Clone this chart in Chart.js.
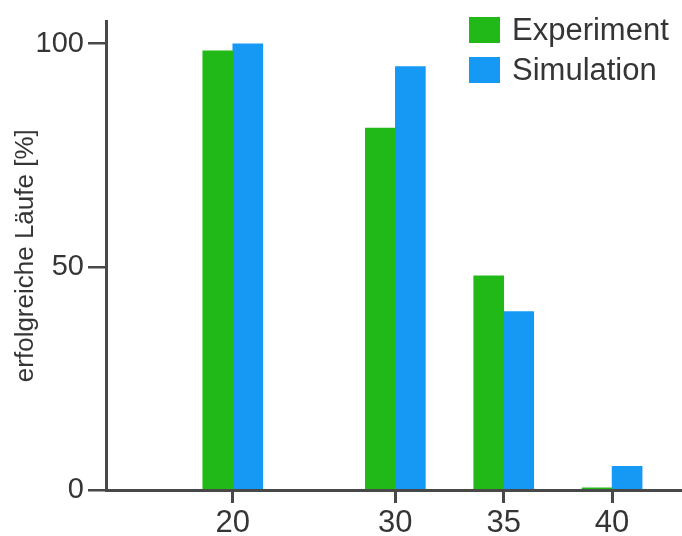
<!DOCTYPE html>
<html>
<head>
<meta charset="utf-8">
<script src="https://cdn.jsdelivr.net/npm/chart.js@4/dist/chart.umd.min.js"></script>
<style>
  html, body { margin: 0; padding: 0; background: #fff; }
  #wrap { position: relative; width: 682px; height: 536px; }
</style>
</head>
<body>
<div id="wrap"><canvas id="chart"></canvas></div>
<script>
// --- data ---
const categories = ['20', '30', '35', '40'];
// slots on the x axis (blank ones are gaps in the original axis)
const xSlots = ['20', '', '', '30', '', '35', '', '40'];
const experiment = [98.4, 81.1, 48, 0.5];
const simulation = [100, 94.9, 40, 5.3];
const yTicks = [0, 50, 100];

const GREEN = '#20b917';
const BLUE = '#1698f5';
const TEXT = '#353535';
const AXIS = '#484848';
const FONT = "'Liberation Sans', Arial, Helvetica, sans-serif";

const toPoints = values => categories.map((c, i) => ({ x: xSlots.indexOf(c), y: values[i] }));

// legend drawn in the top right corner, inside the plot area
const cornerLegend = {
  id: 'cornerLegend',
  afterDatasetsDraw(chart) {
    const ctx = chart.ctx;
    ctx.save();
    ctx.font = '31px ' + FONT;
    ctx.textBaseline = 'middle';
    chart.data.datasets.forEach((ds, i) => {
      const top = 17 + i * 40;
      ctx.fillStyle = ds.backgroundColor;
      ctx.fillRect(469, top, 31, 26);
      ctx.fillStyle = TEXT;
      ctx.fillText(ds.label, 512, top + 14);
    });
    ctx.restore();
  }
};

new Chart(document.getElementById('chart'), {
  type: 'bar',
  data: {
    datasets: [
      { label: 'Experiment', data: toPoints(experiment), backgroundColor: GREEN },
      { label: 'Simulation', data: toPoints(simulation), backgroundColor: BLUE }
    ]
  },
  options: {
    responsive: true,
    maintainAspectRatio: false,
    animation: false,
    layout: { padding: { top: 17, right: 0, left: 0, bottom: 0 } },
    barThickness: 30,
    plugins: {
      legend: { display: false },
      tooltip: { enabled: false }
    },
    scales: {
      x: {
        type: 'linear',
        min: -2.34,
        max: 8.29,
        offset: false,
        grid: { display: true, drawOnChartArea: false, offset: false, tickLength: 13, lineWidth: 3, color: AXIS },
        border: { display: true, color: AXIS, width: 3 },
        afterBuildTicks: s => { s.ticks = categories.map(c => ({ value: xSlots.indexOf(c) })); },
        afterFit: s => { s.height = 46; },
        ticks: {
          autoSkip: false,
          maxRotation: 0,
          padding: 2,
          color: TEXT,
          font: { family: FONT, size: 31 },
          callback: (v) => xSlots[v]
        }
      },
      y: {
        min: 0,
        max: 105,
        grid: { display: true, drawOnChartArea: false, tickLength: 18, lineWidth: 2.5, color: AXIS },
        border: { display: true, color: AXIS, width: 3 },
        afterBuildTicks: s => { s.ticks = yTicks.map(v => ({ value: v })); },
        afterFit: s => { s.width = 106; },
        ticks: {
          padding: 4,
          color: TEXT,
          font: { family: FONT, size: 29 }
        },
        title: {
          display: true,
          text: 'erfolgreiche Läufe [%]',
          color: TEXT,
          font: { family: FONT, size: 26 },
          padding: { top: 10, bottom: 0 }
        }
      }
    }
  },
  plugins: [cornerLegend]
});
</script>
</body>
</html>
